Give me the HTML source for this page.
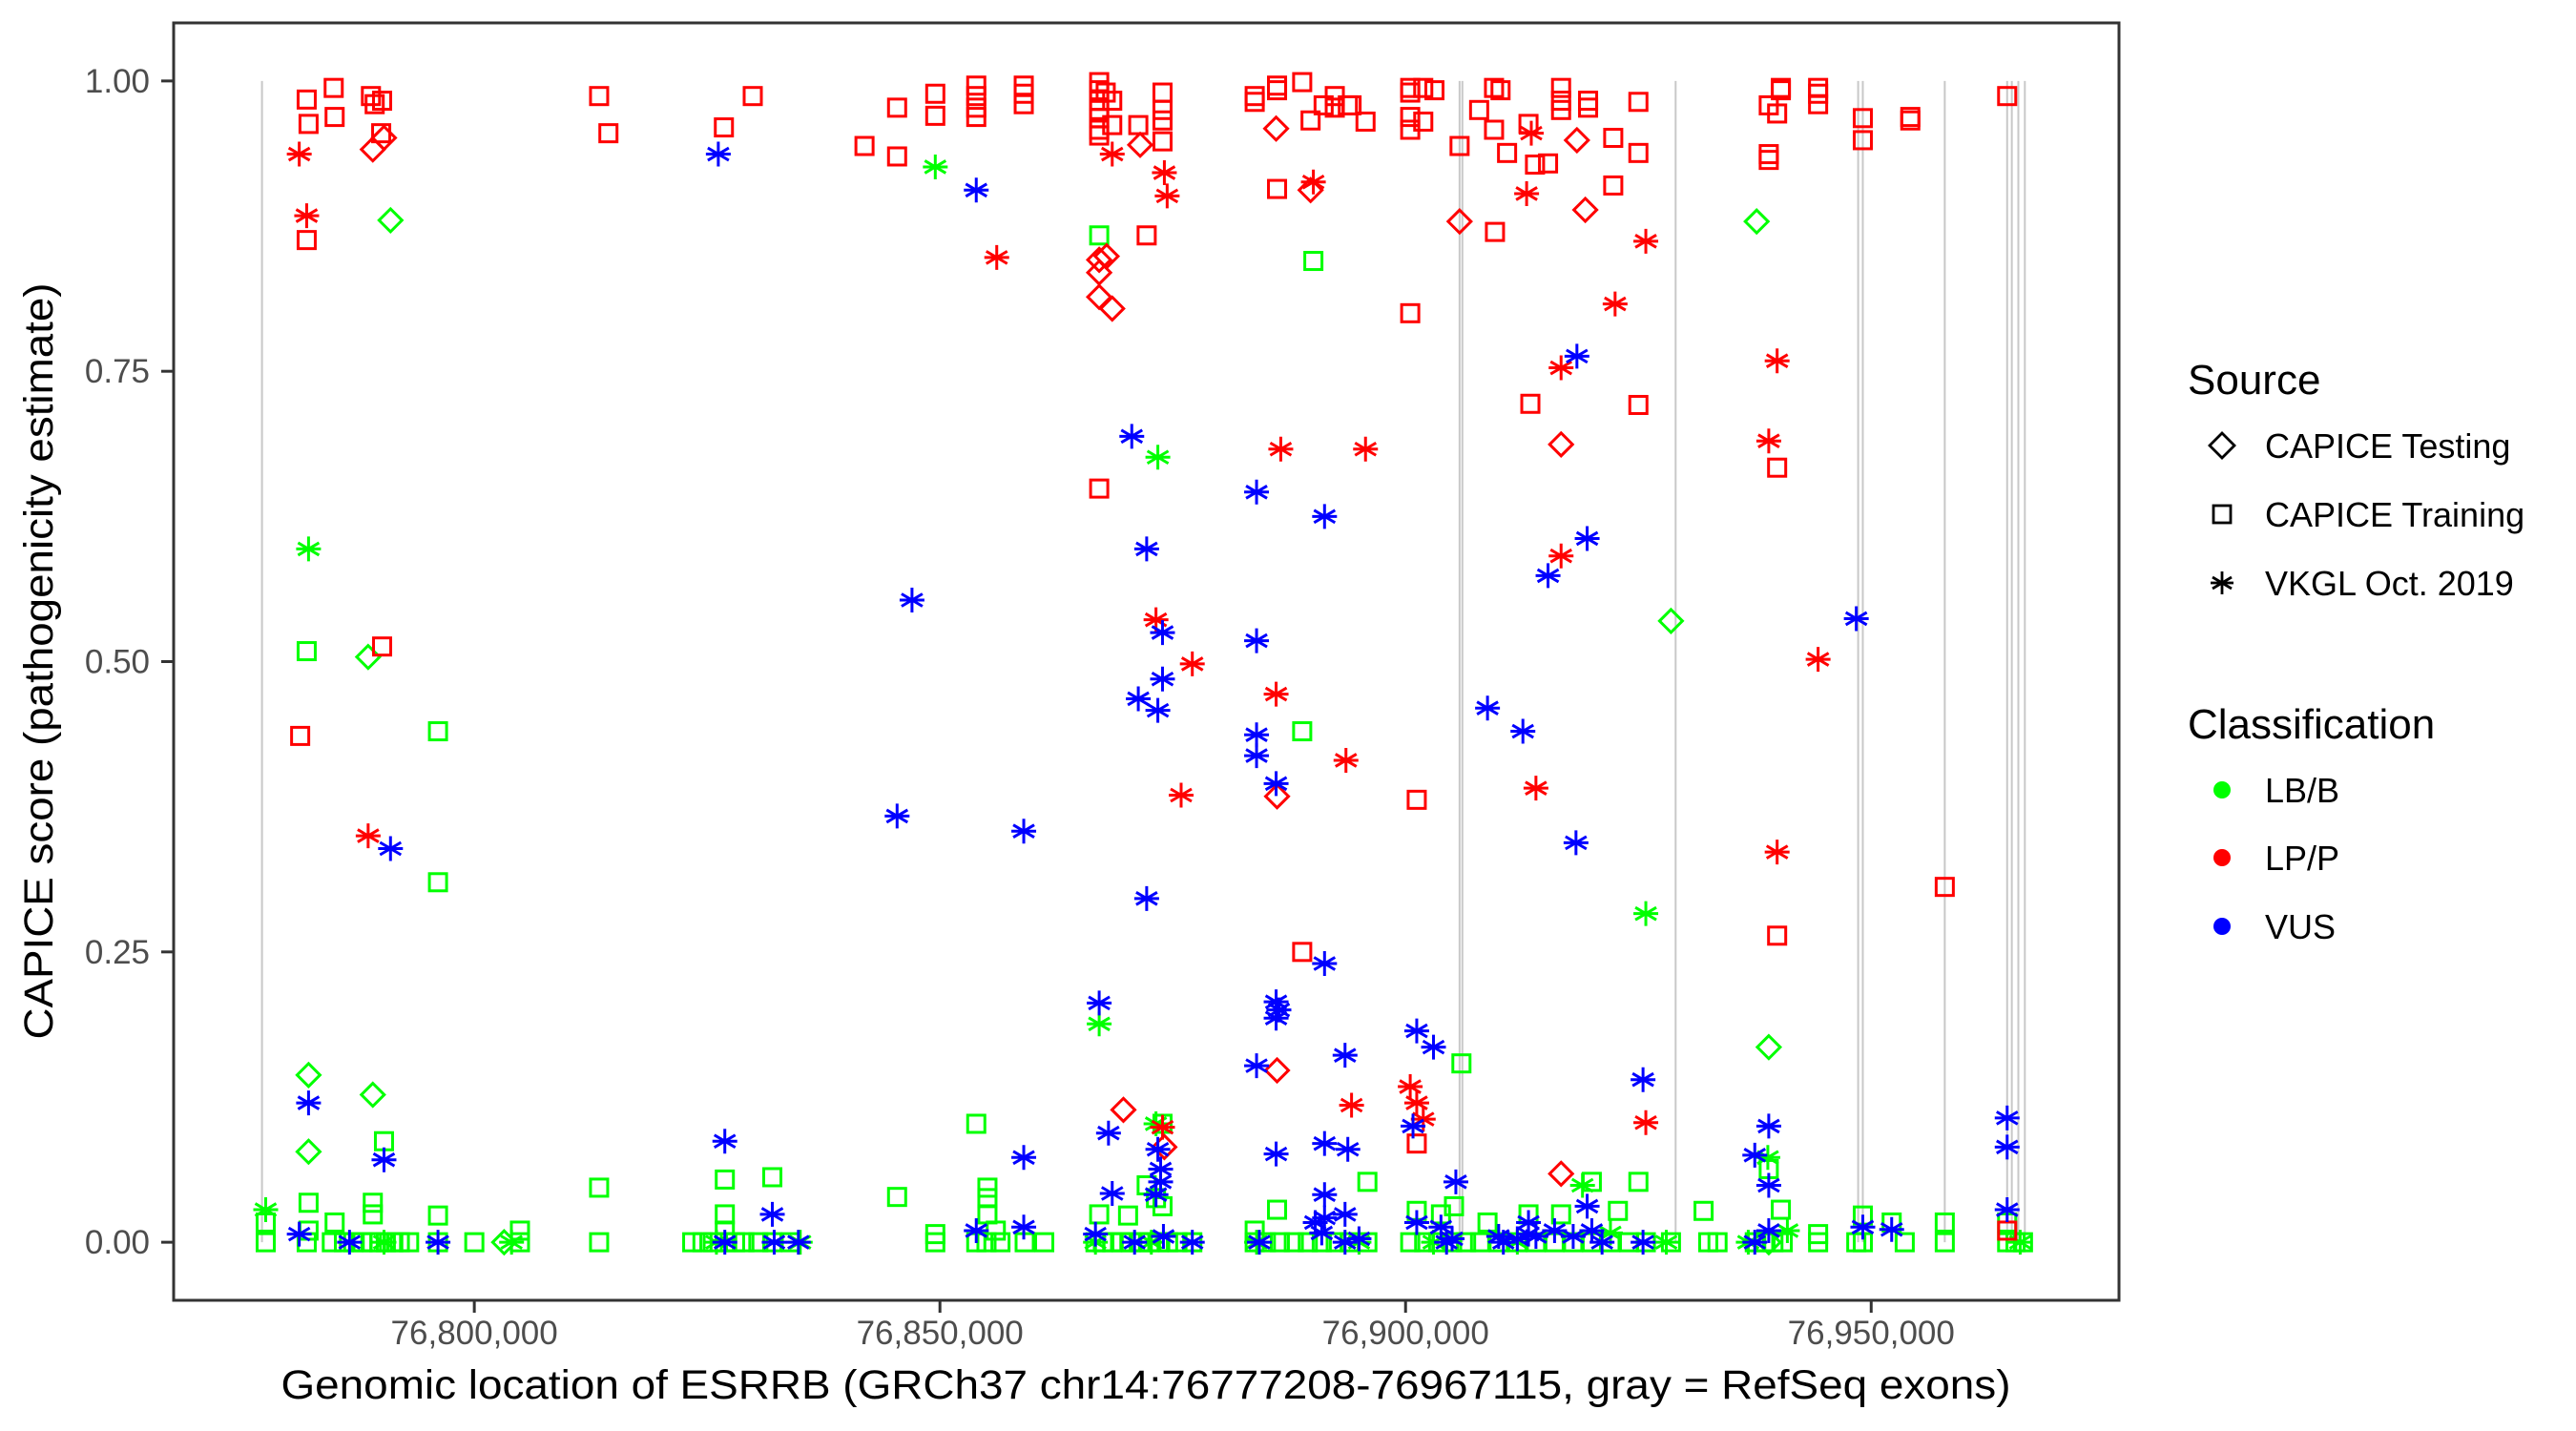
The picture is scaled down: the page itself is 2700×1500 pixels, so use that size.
<!DOCTYPE html>
<html><head><meta charset="utf-8"><style>
html,body{margin:0;padding:0;background:#fff;}
svg{display:block;font-family:"Liberation Sans",Arial,sans-serif;}
</style></head><body>
<svg id="chart" width="2700" height="1500" viewBox="0 0 2700 1500" xmlns="http://www.w3.org/2000/svg">
<rect x="0" y="0" width="2700" height="1500" fill="#fff"/>
<g id="exons"></g>
<g id="points"></g>
<rect x="182" y="24" width="2039" height="1339" fill="none" stroke="#333" stroke-width="3"/>
<g id="xaxis"></g>
<g id="yaxis"></g>
<text x="1201" y="1466" font-size="43" text-anchor="middle" textLength="1813" lengthAdjust="spacingAndGlyphs">Genomic location of ESRRB (GRCh37 chr14:76777208-76967115, gray = RefSeq exons)</text>
<text transform="translate(55,693) rotate(-90)" font-size="43" text-anchor="middle" textLength="793" lengthAdjust="spacingAndGlyphs">CAPICE score (pathogenicity estimate)</text>
<g id="legend">
<text x="2293" y="413" font-size="44">Source</text>
<g>
<path d="M2329,454 L2342,467 L2329,480 L2316,467 Z" fill="none" stroke="#000" stroke-width="2.8"/>
<text x="2374" y="480" font-size="36">CAPICE Testing</text></g>
<g>
<rect x="2320" y="530" width="18" height="18" fill="none" stroke="#000" stroke-width="2.8"/>
<text x="2374" y="552" font-size="36">CAPICE Training</text></g>
<g>
<path d="M2329,599 L2329,623 M2319,605 L2339,617 M2319,617 L2339,605 M2317,611 L2341,611" stroke="#000" stroke-width="2.8"/>
<text x="2374" y="624" font-size="36">VKGL Oct. 2019</text></g>
<text x="2293" y="774" font-size="44">Classification</text>
<g><circle cx="2329" cy="828" r="9" fill="#00ff00"/><text x="2374" y="841" font-size="36">LB/B</text></g>
<g><circle cx="2329" cy="899" r="9" fill="#ff0000"/><text x="2374" y="912" font-size="36">LP/P</text></g>
<g><circle cx="2329" cy="971" r="9" fill="#0000ff"/><text x="2374" y="984" font-size="36">VUS</text></g>
</g>
</svg>
<script>
const xTicks = [76800000, 76850000, 76900000, 76950000];
const xTickLabels = ["76,800,000", "76,850,000", "76,900,000", "76,950,000"];
const yTicks = [0, 0.25, 0.5, 0.75, 1];
const yTickLabels = ["0.00", "0.25", "0.50", "0.75", "1.00"];
const exonsKb = [76777.2, 76905.8, 76906.1, 76929.0, 76948.6, 76949.1, 76957.9, 76964.6, 76965.1, 76965.8, 76966.5];
const lbTraining = [[76777.6,0.017],[76782.0,0.509],[76782.2,0.034],[76782.2,0.010],[76785.0,0.017],[76789.1,0.034],[76789.1,0.024],[76790.3,0.087],[76796.1,0.440],[76796.1,0.310],[76796.1,0.023],[76804.9,0.010],[76813.4,0.047],[76826.9,0.054],[76826.9,0.024],[76826.9,0.010],[76832.0,0.056],[76845.4,0.039],[76849.5,0.007],[76853.9,0.102],[76855.1,0.047],[76855.1,0.038],[76855.1,0.024],[76856.0,0.010],[76867.1,0.867],[76867.1,0.024],[76870.2,0.023],[76872.2,0.049],[76873.2,0.038],[76873.9,0.031],[76873.9,0.102],[76883.8,0.010],[76886.2,0.028],[76888.9,0.440],[76890.1,0.845],[76895.9,0.052],[76906.0,0.154],[76901.2,0.027],[76903.8,0.024],[76905.2,0.031],[76908.8,0.017],[76913.2,0.024],[76916.7,0.024],[76920.0,0.052],[76925.0,0.052],[76922.8,0.027],[76932.0,0.027],[76939.0,0.063],[76940.3,0.028],[76944.3,0.007],[76949.1,0.023],[76952.2,0.017],[76957.9,0.017],[76964.6,0.017],
[76777.6,0],[76782.0,0],[76784.7,0],[76786.0,0],[76787.0,0],[76788.0,0],[76789.0,0],[76789.8,0],[76790.5,0],[76791.3,0],[76792.0,0],[76793.0,0],[76796.1,0],[76800.0,0],[76804.9,0],[76813.4,0],[76823.4,0],[76824.5,0],[76825.6,0],[76826.9,0],[76828.0,0],[76829.0,0],[76830.5,0],[76832.0,0],[76834.0,0],[76849.5,0],[76853.9,0],[76855.0,0],[76856.5,0],[76859.1,0],[76861.2,0],[76866.7,0],[76867.5,0],[76868.5,0],[76869.5,0],[76870.5,0],[76871.5,0],[76872.5,0],[76873.5,0],[76874.5,0],[76875.5,0],[76877.1,0],[76883.8,0],[76885.0,0],[76886.5,0],[76888.0,0],[76889.5,0],[76891.0,0],[76892.5,0],[76894.0,0],[76895.9,0],[76900.5,0],[76902.0,0],[76903.5,0],[76905.0,0],[76906.5,0],[76908.0,0],[76910.0,0],[76912.0,0],[76914.0,0],[76916.0,0],[76918.0,0],[76920.0,0],[76922.0,0],[76924.0,0],[76925.8,0],[76928.5,0],[76932.5,0],[76933.5,0],[76937.5,0],[76938.5,0],[76939.5,0],[76940.5,0],[76944.3,0],[76948.4,0],[76949.1,0],[76953.6,0],[76957.9,0],[76964.6,0],[76965.5,0],[76966.3,0]];
const lbTesting = [[76791.0,0.880],[76788.6,0.504],[76782.2,0.144],[76782.2,0.078],[76789.1,0.127],[76803.2,0],[76937.7,0.879],[76928.5,0.535],[76939.0,0.168],[76939.0,0]];
const lbVkgl = [[76777.6,0.028],[76782.2,0.597],[76849.5,0.926],[76873.4,0.676],[76867.1,0.188],[76873.2,0.102],[76925.8,0.283],[76919.0,0.049],[76938.9,0.073],[76804.0,0],[76872.7,0],[76790.3,0],[76826.0,0],[76835.0,0],[76866.7,0],[76884.0,0],[76895.0,0],[76903.0,0],[76912.0,0],[76928.0,0],[76936.8,0],[76966.0,0],[76922.0,0.008],[76941.0,0.010]];
const lpTraining = [[76782.0,0.984],[76782.2,0.963],[76782.0,0.863],[76781.3,0.436],[76790.1,0.513],[76784.9,0.994],[76785.0,0.969],[76788.9,0.987],[76789.3,0.980],[76790.1,0.983],[76790.0,0.955],[76813.4,0.987],[76814.4,0.955],[76826.8,0.960],[76829.9,0.987],[76841.9,0.944],[76845.4,0.977],[76845.4,0.935],[76849.5,0.989],[76849.5,0.970],[76853.9,0.996],[76853.9,0.987],[76853.9,0.977],[76853.9,0.969],[76859.0,0.996],[76859.0,0.989],[76859.0,0.980],[76867.1,0.999],[76867.1,0.992],[76867.1,0.983],[76867.1,0.975],[76867.1,0.968],[76867.1,0.958],[76867.1,0.953],[76867.1,0.649],[76867.8,0.990],[76868.5,0.983],[76868.5,0.962],[76871.3,0.962],[76872.2,0.867],[76873.9,0.990],[76873.9,0.975],[76873.9,0.966],[76873.9,0.948],[76883.8,0.987],[76883.8,0.982],[76886.2,0.996],[76886.2,0.992],[76886.2,0.907],[76888.9,0.999],[76888.9,0.250],[76889.8,0.966],[76891.2,0.979],[76892.4,0.987],[76892.4,0.977],[76893.8,0.979],[76894.2,0.979],[76895.7,0.965],[76900.5,0.994],[76900.5,0.990],[76900.5,0.969],[76900.5,0.958],[76900.5,0.800],[76901.2,0.381],[76901.2,0.085],[76901.9,0.994],[76901.9,0.965],[76903.1,0.992],[76905.8,0.944],[76907.9,0.975],[76909.5,0.958],[76909.5,0.994],[76910.2,0.992],[76909.6,0.870],[76910.9,0.938],[76913.2,0.963],[76913.9,0.928],[76915.3,0.929],[76916.7,0.983],[76916.7,0.975],[76916.7,0.994],[76919.6,0.983],[76919.6,0.977],[76922.3,0.951],[76925.0,0.982],[76925.0,0.938],[76922.3,0.910],[76925.0,0.721],[76913.4,0.722],[76939.0,0.979],[76939.0,0.937],[76939.0,0.932],[76939.9,0.972],[76940.3,0.994],[76940.3,0.992],[76939.9,0.667],[76939.9,0.264],[76944.3,0.994],[76944.3,0.989],[76944.3,0.980],[76949.1,0.968],[76949.1,0.949],[76954.2,0.969],[76954.2,0.966],[76957.9,0.306],[76964.6,0.987],[76964.6,0.010]];
const lpTesting = [[76789.1,0.941],[76790.3,0.951],[76867.1,0.846],[76867.1,0.835],[76867.9,0.849],[76867.1,0.814],[76868.5,0.804],[76871.5,0.945],[76886.1,0.959],[76889.8,0.906],[76905.8,0.879],[76916.7,0.687],[76919.3,0.889],[76918.4,0.949],[76886.2,0.384],[76886.2,0.148],[76869.7,0.114],[76874.1,0.082],[76916.7,0.059]];
const lpVkgl = [[76781.2,0.937],[76782.0,0.884],[76788.6,0.350],[76856.1,0.848],[76868.5,0.937],[76874.1,0.921],[76874.4,0.901],[76890.1,0.913],[76886.6,0.683],[76895.7,0.683],[76877.1,0.498],[76875.9,0.385],[76873.2,0.536],[76886.1,0.472],[76893.6,0.415],[76916.7,0.753],[76922.5,0.808],[76925.8,0.862],[76913.0,0.903],[76916.7,0.591],[76914.0,0.391],[76900.5,0.134],[76901.9,0.106],[76894.2,0.118],[76925.8,0.103],[76939.0,0.690],[76939.9,0.759],[76939.9,0.336],[76944.3,0.502],[76873.9,0.099],[76913.5,0.955],[76901.2,0.120]];
const vusVkgl = [[76826.2,0.937],[76853.9,0.906],[76847.0,0.553],[76845.4,0.367],[76859.0,0.354],[76859.0,0.073],[76853.9,0.010],[76870.6,0.694],[76872.2,0.597],[76873.9,0.525],[76873.9,0.485],[76871.3,0.468],[76873.4,0.458],[76872.2,0.296],[76867.1,0.206],[76868.1,0.094],[76868.5,0.042],[76873.4,0.080],[76873.7,0.063],[76873.7,0.052],[76873.2,0.041],[76884.0,0.646],[76891.3,0.625],[76884.0,0.518],[76884.0,0.437],[76884.0,0.419],[76886.1,0.395],[76886.1,0.207],[76886.4,0.200],[76886.1,0.193],[76891.3,0.240],[76893.5,0.161],[76884.0,0.152],[76886.1,0.076],[76891.3,0.085],[76891.3,0.041],[76893.8,0.080],[76891.3,0.021],[76893.5,0.024],[76901.2,0.182],[76903.0,0.168],[76900.8,0.100],[76905.4,0.052],[76908.8,0.460],[76912.6,0.440],[76915.3,0.574],[76919.5,0.606],[76918.3,0.344],[76918.4,0.763],[76903.8,0.013],[76913.2,0.017],[76919.5,0.031],[76925.5,0.140],[76937.5,0.075],[76939.0,0.100],[76939.0,0.049],[76948.4,0.537],[76952.2,0.011],[76964.6,0.107],[76964.6,0.082],[76964.6,0.028],[76782.2,0.120],[76790.3,0.071],[76791.0,0.339],[76826.9,0.087],[76832.0,0.024],[76781.2,0.007],[76786.6,0],[76796.1,0],[76826.9,0],[76832.2,0],[76834.8,0],[76859.0,0.013],[76866.7,0.007],[76870.9,0],[76877.1,0],[76884.3,0],[76890.3,0.017],[76893.5,0],[76901.2,0.017],[76904.4,0],[76910.5,0],[76913.2,0.007],[76916.0,0.010],[76921.1,0],[76925.5,0],[76937.5,0],[76939.0,0.010],[76949.1,0.013],[76910.0,0.005],[76912.0,0.003],[76914.0,0.005],[76918.0,0.005],[76920.0,0.010],[76874.0,0.005],[76891.0,0.008],[76895.0,0.003],[76905.0,0.003]];

const X0 = 182, X1 = 2221, Y0 = 1363, Y1 = 24;
const xMin = 76767713, xMax = 76976610, yMin = -0.05, yMax = 1.05;
function xs(bp){ return X0 + (bp - xMin) / (xMax - xMin) * (X1 - X0); }
function ys(v){ return Y0 - (v - yMin) / (yMax - yMin) * (Y0 - Y1); }
const NS = "http://www.w3.org/2000/svg";
function mk(tag, attrs, parent){ const e = document.createElementNS(NS, tag); for (const k in attrs) e.setAttribute(k, attrs[k]); parent.appendChild(e); return e; }

const exG = document.getElementById("exons");
exonsKb.forEach(function(kb){
  const x = xs(kb * 1000);
  const l = mk("line", {x1:x, x2:x, y1:ys(1), y2:ys(0), stroke:"#c8c8c8", "stroke-width":2}, exG);
  
  
});

const xg = document.getElementById("xaxis");
xTicks.forEach(function(t, i){
  const x = xs(t);
  const tk = mk("line", {x1:x, x2:x, y1:1363, y2:1376, stroke:"#333", "stroke-width":3}, xg);
  
  
  const tx = mk("text", {x:x, y:1409, "font-size":35, fill:"#4d4d4d", "text-anchor":"middle"}, xg);
  tx.textContent = xTickLabels[i];
  
  
});
const yg = document.getElementById("yaxis");
yTicks.forEach(function(t, i){
  const y = ys(t);
  const tk = mk("line", {x1:169, x2:182, y1:y, y2:y, stroke:"#333", "stroke-width":3}, yg);
  
  
  const tx = mk("text", {x:157, y:y + 12, "font-size":35, fill:"#4d4d4d", "text-anchor":"end"}, yg);
  tx.textContent = yTickLabels[i];
  
  
});

const pg = document.getElementById("points");
function drawSeries(data, shape, color, name){
  data.forEach(function(d){
    const x = xs(d[0] * 1000), y = ys(d[1]);
    let e;
    if (shape === "square") {
      e = mk("rect", {x:x-9, y:y-9, width:18, height:18, fill:"none", stroke:color, "stroke-width":3}, pg);
    } else if (shape === "diamond") {
      e = mk("path", {d:"M"+x+","+(y-12)+" L"+(x+12)+","+y+" L"+x+","+(y+12)+" L"+(x-12)+","+y+" Z", fill:"none", stroke:color, "stroke-width":3}, pg);
    } else {
      e = mk("path", {d:"M"+x+","+(y-13)+" L"+x+","+(y+13)+" M"+(x-11)+","+(y-6.5)+" L"+(x+11)+","+(y+6.5)+" M"+(x-11)+","+(y+6.5)+" L"+(x+11)+","+(y-6.5)+" M"+(x-13)+","+y+" L"+(x+13)+","+y, stroke:color, "stroke-width":3}, pg);
    }
    
    
  });
}
drawSeries(lbTraining, "square", "#00ff00", "point-lbb-training");
drawSeries(lbTesting, "diamond", "#00ff00", "point-lbb-testing");
drawSeries(lbVkgl, "star", "#00ff00", "point-lbb-vkgl");
drawSeries(lpTraining, "square", "#ff0000", "point-lpp-training");
drawSeries(lpTesting, "diamond", "#ff0000", "point-lpp-testing");
drawSeries(lpVkgl, "star", "#ff0000", "point-lpp-vkgl");
drawSeries(vusVkgl, "star", "#0000ff", "point-vus-vkgl");
</script>
</body></html>
